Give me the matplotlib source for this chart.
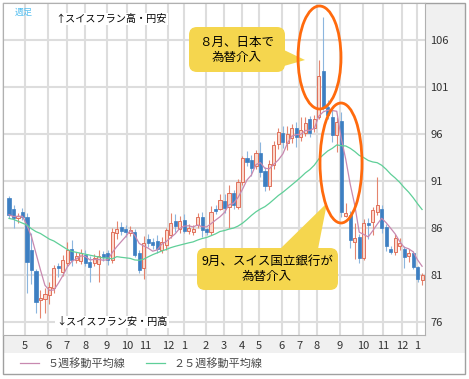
import matplotlib
matplotlib.use('Agg')
import matplotlib.pyplot as plt
from matplotlib.patches import Ellipse, FancyBboxPatch, Polygon, Rectangle
import numpy as np
import pandas as pd

plt.rcParams['font.family'] = ['Noto Sans CJK JP', 'DejaVu Sans']

# weekly CHF/JPY candles
opens = [89.2, 88.0, 87.0, 87.7, 87.2, 83.6, 81.4, 78.3, 78.4, 78.9,
         79.6, 82.0, 81.3, 82.3, 83.8, 82.6, 82.5, 83.1, 82.4, 82.3,
         82.2, 83.2, 83.3, 82.6, 85.5, 86.1, 85.9, 85.5, 85.6, 83.3,
         81.7, 84.8, 84.5, 84.6, 83.7, 84.2, 85.2, 86.7, 85.9, 86.8,
         85.7, 85.6, 86.3, 87.1, 85.9, 85.6, 88.0, 88.0, 88.9, 88.2,
         89.7, 88.2, 90.9, 93.4, 93.2, 92.6, 94.0, 92.0, 90.4, 92.7,
         94.9, 96.1, 95.0, 95.5, 96.6, 95.6, 96.1, 97.6, 96.6, 97.8,
         102.7, 98.8, 97.8, 95.9, 97.3, 87.3, 87.4, 84.5, 85.0, 82.8,
         86.5, 86.6, 87.7, 88.0, 86.1, 83.8, 83.4, 84.1, 83.8, 83.0,
         83.3, 81.8, 80.5]
closes = [87.4, 87.0, 87.3, 87.2, 82.4, 81.5, 78.1, 78.5, 79.0, 79.7,
          81.7, 81.7, 82.6, 83.6, 82.6, 83.0, 83.3, 82.3, 81.8, 82.8,
          83.0, 82.9, 82.6, 85.6, 85.9, 85.7, 85.6, 85.8, 83.1, 81.5,
          84.4, 84.4, 84.2, 83.8, 84.5, 85.8, 86.5, 86.2, 86.7, 85.7,
          86.0, 85.9, 87.2, 85.8, 85.6, 87.7, 87.8, 89.0, 88.1, 89.7,
          88.4, 90.9, 93.4, 93.0, 92.4, 93.9, 91.9, 90.4, 92.8, 94.8,
          96.2, 95.1, 96.0, 96.6, 95.6, 96.4, 97.1, 96.1, 97.6, 102.1,
          98.7, 98.0, 95.9, 97.2, 87.7, 87.6, 84.7, 84.9, 82.8, 86.5,
          86.3, 87.9, 88.4, 86.0, 84.1, 83.4, 84.9, 84.4, 82.9, 83.3,
          81.8, 80.6, 81.0]
highs = [89.4, 88.4, 87.6, 88.1, 87.6, 85.5, 81.6, 79.4, 79.6, 80.3,
         82.1, 82.3, 83.1, 84.5, 84.7, 83.4, 83.8, 83.6, 83.0, 83.2,
         83.6, 83.5, 83.6, 86.0, 86.7, 86.6, 86.3, 86.2, 85.9, 83.6,
         85.1, 85.3, 84.9, 85.2, 85.0, 86.0, 87.6, 87.5, 87.3, 87.5,
         86.4, 86.3, 87.6, 87.7, 86.0, 88.3, 88.4, 89.6, 89.6, 90.6,
         90.0, 91.2, 93.6, 94.2, 93.7, 94.3, 95.1, 92.5, 93.2, 95.2,
         96.6, 96.8, 96.8, 97.0, 97.2, 97.8, 97.8, 97.9, 98.0, 103.8,
         108.4, 99.6, 98.5, 97.8, 98.3, 88.6, 87.8, 86.5, 85.3, 86.9,
         87.0, 88.2, 91.4, 88.4, 86.4, 84.1, 85.3, 84.9, 84.1, 83.8,
         83.5, 82.0, 81.2]
lows = [87.0, 86.0, 86.5, 86.8, 79.1, 80.0, 77.0, 76.4, 77.0, 77.9,
        79.1, 80.8, 80.9, 82.0, 82.0, 82.3, 82.2, 82.0, 80.3, 82.0,
        80.3, 82.5, 82.1, 82.3, 84.8, 85.2, 85.0, 85.1, 82.9, 81.2,
        80.6, 84.0, 83.8, 83.3, 83.3, 83.6, 84.9, 85.6, 85.5, 85.4,
        85.3, 85.2, 86.0, 85.0, 85.2, 85.2, 87.5, 87.9, 87.6, 86.0,
        88.0, 88.0, 90.6, 92.6, 91.5, 92.2, 91.4, 89.9, 90.0, 92.3,
        94.4, 94.5, 94.3, 95.0, 94.6, 95.2, 95.8, 95.6, 96.2, 97.6,
        98.5, 97.6, 95.1, 94.1, 87.1, 87.1, 83.9, 82.7, 82.3, 82.6,
        84.8, 85.2, 87.4, 85.5, 83.5, 83.2, 83.1, 83.6, 81.7, 82.4,
        81.6, 80.3, 79.9]

# 25-week MA for the first weeks (needs history before the chart starts)
ma25_head = [87.0, 86.9, 86.7, 86.5, 86.3, 85.9, 85.6, 85.4, 85.1, 84.8,
             84.6, 84.3, 84.0, 83.7, 83.5, 83.4, 83.3, 83.2, 83.1, 83.0,
             82.9, 82.8, 82.8, 82.7]

month_labels = ['5', '6', '7', '8', '9', '10', '11', '12', '1', '2', '3',
                '4', '5', '6', '7', '8', '9', '10', '11', '12', '1']
month_pos = [3.6, 8.7, 12.9, 17.0, 21.8, 26.3, 30.4, 35.4, 39.0, 43.9, 47.9,
             51.9, 55.7, 60.8, 64.6, 68.6, 73.7, 78.8, 83.3, 87.5, 90.9]

o = np.array(opens); c = np.array(closes)
h = np.array(highs); l = np.array(lows)
x = np.arange(len(c))
s = pd.Series(c)
ma5 = s.rolling(5, min_periods=1).mean().values
ma25 = s.rolling(25).mean().values
ma25[:len(ma25_head)] = ma25_head

W, H = 469, 379
fig = plt.figure(figsize=(W / 100, H / 100), dpi=100)

# background panels / frame (pixel coords)
bg = fig.add_axes([0, 0, 1, 1], zorder=0)
bg.set_xlim(0, W); bg.set_ylim(H, 0); bg.axis('off')
bg.add_patch(Rectangle((425, 3), 40, 350, fc='#f0f0f0', ec='none'))
bg.add_patch(Rectangle((3, 335), 422, 18, fc='#f0f0f0', ec='none'))
bg.add_patch(Rectangle((3, 3), 462, 371, fc='none', ec='#a0a0a0', lw=1))

ax = fig.add_axes([3 / W, 1 - 335 / H, 422 / W, 332 / H], zorder=1)
ax.set_facecolor('white')

up = c >= o
bottom = np.minimum(o, c)
height = np.maximum(np.abs(c - o), 0.1)
ax.vlines(x[up], l[up], h[up], color='#e5856e', lw=0.8, zorder=2)
ax.vlines(x[~up], l[~up], h[~up], color='#8cb6de', lw=0.8, zorder=2)
ax.bar(x[up], height[up], bottom=bottom[up], width=0.7, color='#fbd8cc',
       edgecolor='#e0705a', lw=0.7, zorder=3)
ax.bar(x[~up], height[~up], bottom=bottom[~up], width=0.7, color='#3d7fc2',
       edgecolor='#3d7fc2', lw=0.5, zorder=3)

l5, = ax.plot(x, ma5, color='#c889b0', lw=0.9, zorder=4)
l25, = ax.plot(x, ma25, color='#5fcf98', lw=0.9, zorder=4)

ax.set_xlim(-1.34, 92.65)
ax.set_ylim(74.62, 109.88)
ax.set_xticks(month_pos)
ax.set_xticklabels(month_labels)
ax.set_yticks(range(76, 107, 5))
ax.yaxis.tick_right()
ax.tick_params(axis='y', length=0, pad=4, labelsize=8, labelcolor='#333333')
ax.tick_params(axis='x', length=0, pad=4, labelsize=8, labelcolor='#333333')
ax.grid(color='#dddddd', lw=1.5)
ax.set_axisbelow(True)
for sp in ax.spines.values():
    sp.set_color('#b0b0b0')
    sp.set_linewidth(0.8)

fig.legend([l5, l25], ['５週移動平均線', '２５週移動平均線'], loc='center left',
           bbox_to_anchor=(10 / W, 1 - 363 / H), ncol=2, frameon=False,
           fontsize=8, handlelength=1.7, columnspacing=1.8, labelcolor='#4a4a4a')

# annotations overlay (pixel coords)
ov = fig.add_axes([0, 0, 1, 1], zorder=3)
ov.set_xlim(0, W); ov.set_ylim(H, 0); ov.axis('off')
ov.patch.set_alpha(0)

ov.text(15, 12, '週足', color='#55bff0', fontsize=6.5, va='center')
ov.text(111, 19, '↑スイスフラン高・円安', fontsize=7.3, ha='center', va='center',
        bbox=dict(fc='white', ec='none', pad=1))
ov.text(112, 322, '↓スイスフラン安・円高', fontsize=7.3, ha='center', va='center',
        bbox=dict(fc='white', ec='none', pad=1))

yellow = '#f5d64e'
ov.add_patch(FancyBboxPatch((189, 27), 96, 45, boxstyle='round,pad=0,rounding_size=8',
                            fc=yellow, ec='none'))
ov.add_patch(Polygon([(284, 50), (305, 60), (284, 66)], fc=yellow, ec='none'))
ov.text(237, 50, '８月、日本で\n為替介入', fontsize=9, ha='center', va='center',
        linespacing=1.15)

ov.add_patch(FancyBboxPatch((197, 248), 141, 42, boxstyle='round,pad=0,rounding_size=8',
                            fc=yellow, ec='none'))
ov.add_patch(Polygon([(280, 249), (327, 203), (318, 249)], fc=yellow, ec='none'))
ov.text(267, 269, '9月、スイス国立銀行が\n為替介入', fontsize=9, ha='center',
        va='center', linespacing=1.15)

ov.add_patch(Ellipse((319.5, 57.5), 43, 103, fill=False, ec='#ff6a0d', lw=2))
ov.add_patch(Ellipse((341, 163), 42, 120, fill=False, ec='#ff6a0d', lw=2))

fig.savefig('out.png', dpi=100)
